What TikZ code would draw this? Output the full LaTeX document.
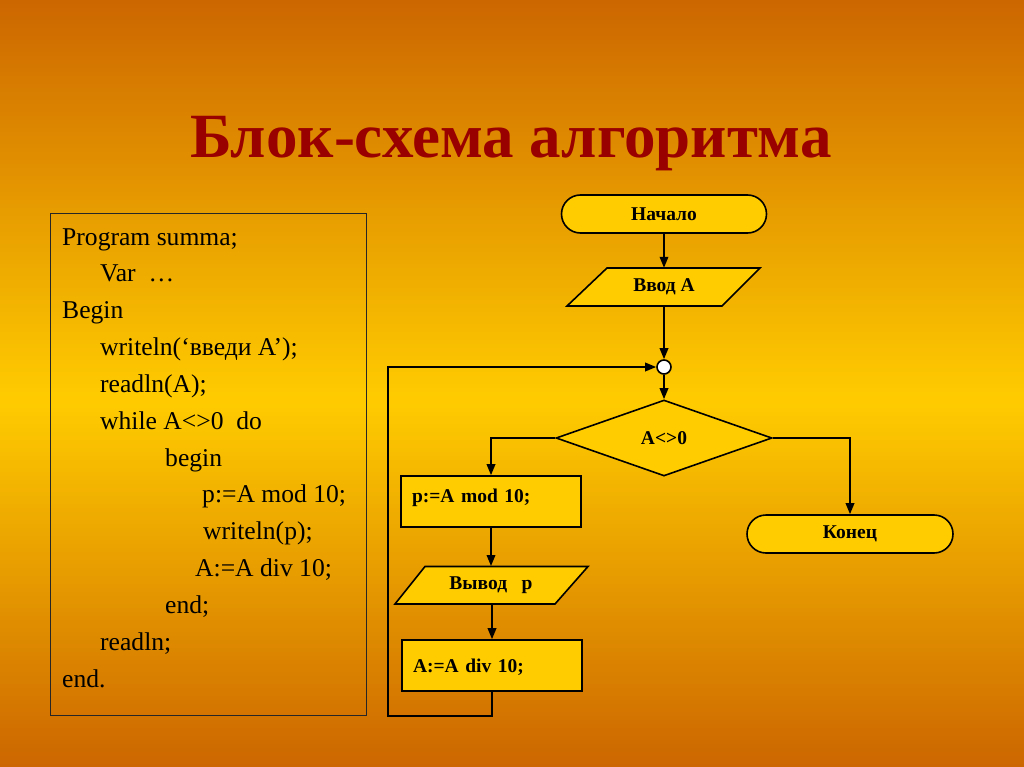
\documentclass[tikz,border=0pt]{standalone}
\usepackage{fontspec}
\setmainfont{Liberation Serif}
\usetikzlibrary{shapes.geometric,arrows.meta,calc}
\definecolor{bgorange}{HTML}{CC6600}
\definecolor{bgyellow}{HTML}{FFCC00}
\definecolor{boxfill}{HTML}{FFCC00}
\definecolor{titlered}{HTML}{990000}
\begin{document}
\begin{tikzpicture}[x=1pt,y=-1pt,
  line/.style={line width=1.8pt, draw=black},
  arr/.style={line, -{Triangle[length=11pt,width=8.5pt]}},
  shp/.style={draw=black, line width=1.6pt, fill=boxfill, text=black,
    font=\bfseries\fontsize{19.5}{22}\selectfont},
  term/.style={shp, rectangle, rounded corners=19pt, minimum width=205pt, minimum height=38pt, inner sep=0pt},
  iotext/.style={rectangle, inner sep=0pt, minimum width=150pt, minimum height=38pt, text=black,
    font=\bfseries\fontsize{19.5}{22}\selectfont},
  ioshape/.style={draw=black, line width=1.6pt, fill=boxfill, line join=miter},
  proc/.style={shp, rectangle, minimum width=179.5pt, text width=158pt, inner xsep=10.75pt, inner ysep=5pt, align=left},
  cond/.style={shp, diamond, minimum width=216pt, minimum height=76pt, inner sep=0pt},
  codetext/.style={anchor=base west, inner sep=0pt, text=black, font=\fontsize{25.6}{30}\selectfont},
  junction/.style={circle, draw=black, fill=white, line width=1.6pt, minimum size=14pt, inner sep=0pt}
]
\useasboundingbox (0,0) rectangle (1024,767);
% background gradient: orange - yellow - orange
\foreach \i in {0,...,191} {
  \pgfmathsetmacro\yy{4*\i}
  \pgfmathsetmacro\mixv{\yy<400 ? (\yy+2)/4 : (765-\yy)/3.67}
  \fill[bgyellow!\mixv!bgorange] (0,\yy) rectangle (1024,\yy+4.6);
}

% title
\node[anchor=base, inner sep=0pt, text=titlered, font=\bfseries\fontsize{63}{70}\selectfont] (title) at (511,158) {Блок-схема алгоритма};

% code listing
\node[draw=black!85, line width=0.8pt, anchor=north west, minimum width=316pt, minimum height=502pt, inner sep=0pt] (code) at (50,213) {};
\node[codetext] (l0) at (62,245) {Program summa;};
\node[codetext] (l1) at (100,281.8) {Var\ \ …};
\node[codetext] (l2) at (62,318.7) {Begin};
\node[codetext] (l3) at (100,355.5) {writeln(‘введи A’);};
\node[codetext] (l4) at (100,392.3) {readln(A);};
\node[codetext] (l5) at (100,429.2) {while A<>0\ \ do};
\node[codetext] (l6) at (165,466) {begin};
\node[codetext] (l7) at (202,502.8) {p:=A mod 10;};
\node[codetext] (l8) at (203,539.6) {writeln(p);};
\node[codetext] (l9) at (195,576.5) {A:=A div 10;};
\node[codetext] (l10) at (165,613.3) {end;};
\node[codetext] (l11) at (100,650.1) {readln;};
\node[codetext] (l12) at (62,687) {end.};

% flowchart
\node[term] (start) at (664,214) {Начало};
\filldraw[ioshape] (607,268) -- (760,268) -- (722,306) -- (567,306) -- cycle;
\node[iotext] (in) at (664,287) {Ввод А};
\node[junction] (j) at (664,367) {};
\node[cond] (c) at (664,438) {A<>0};
\node[proc, text height=21pt, text depth=20pt] (p1) at (491,501.5) {p:=A mod 10;};
\filldraw[ioshape] (425,566.5) -- (588,566.5) -- (555,604) -- (395,604) -- cycle;
\node[iotext] (out) at (491,585.25) {Вывод\ \ \ p};
\node[proc, text height=27pt, text depth=14pt] (p2) at (492,665.5) {A:=A div 10;};
\node[term, minimum width=206pt] (stop) at (850,534) {Конец};

\coordinate (lb) at (388,716);
\coordinate (lt) at (388,367);

\draw[arr] (start.south) -- (in.north);
\draw[arr] (in.south) -- (j.north);
\draw[arr] (j.south) -- (c.north);
\draw[arr] (c.west) -| (p1.north);
\draw[arr] (c.east) -| (stop.north);
\draw[arr] (p1.south) -- (out.north);
\draw[arr] (out.south) -- (out.south -| p2.north) -- (p2.north);
\draw[arr] (p2.south) |- (lb) -- (lt) -- (j.west);
\end{tikzpicture}
\end{document}
